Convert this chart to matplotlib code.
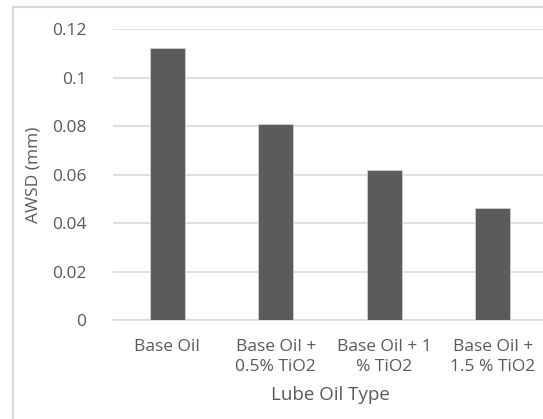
import matplotlib.pyplot as plt
from matplotlib.patches import Rectangle

categories = ["Base Oil", "Base Oil +\n0.5% TiO2", "Base Oil + 1\n% TiO2", "Base Oil +\n1.5 % TiO2"]
awsd = [0.112, 0.081, 0.062, 0.046]
yticks = [0, 0.02, 0.04, 0.06, 0.08, 0.1, 0.12]
ytick_labels = ["0", "0.02", "0.04", "0.06", "0.08", "0.1", "0.12"]

plt.rcParams["font.family"] = ["Open Sans", "DejaVu Sans"]
txt = "#595959"

W, H = 543, 419
fig = plt.figure(figsize=(W / 100, H / 100), dpi=100)
ax = fig.add_axes([113 / W, 1 - 320 / H, (547 - 113) / W, (320 - 29) / H])

x = range(len(categories))
ax.bar(x, awsd, width=0.32, color="#5b5b5b", edgecolor="#cfcfcf", linewidth=0.6, zorder=3)

ax.set_xlim(-0.5, len(categories) - 0.5)
ax.set_ylim(0, 0.12)
ax.set_yticks(yticks)
ax.set_yticklabels(ytick_labels)
ax.set_xticks(list(x))
ax.set_xticklabels(categories, linespacing=1.3)
ax.grid(axis="y", color="#d9d9d9", linewidth=1.2, zorder=0)
ax.tick_params(axis="both", length=0, colors=txt, labelsize=12.5)
ax.tick_params(axis="y", pad=19)
ax.tick_params(axis="x", pad=14)
for s in ["top", "right", "left"]:
    ax.spines[s].set_visible(False)
ax.spines["bottom"].set_color("#d9d9d9")
ax.spines["bottom"].set_linewidth(1.2)

ax.set_ylabel("AWSD (mm)", color=txt, fontsize=12.5, labelpad=8)
ax.set_xlabel("Lube Oil Type", color=txt, fontsize=13.5, labelpad=8)

# outer chart frame (cut off at right and bottom)
fig.add_artist(Rectangle((13 / W, -0.05), 1.0, 1 - 7 / H + 0.05, transform=fig.transFigure,
                         fill=False, edgecolor="#d9d9d9", linewidth=1.5))

fig.savefig("out.png", dpi=100)
